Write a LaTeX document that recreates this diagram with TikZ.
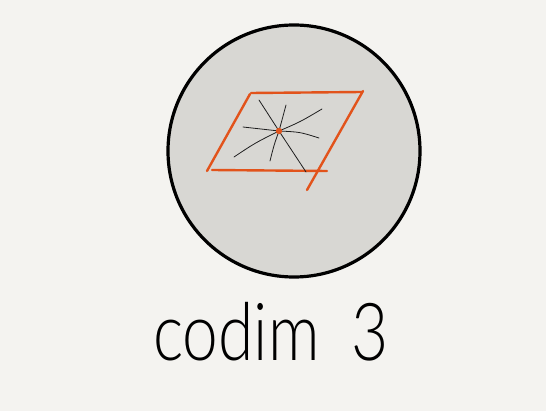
\documentclass[tikz,border=0pt]{standalone}
\usepackage{fontspec}
\setmainfont{Lato}[UprightFont=* Light]
\definecolor{paper}{HTML}{F4F3F0}
\definecolor{ball}{HTML}{D8D7D3}
\definecolor{sheet}{HTML}{E2531B}
\definecolor{ink}{HTML}{1E1E1E}
\begin{document}
\begin{tikzpicture}[x=1pt, y=-1pt,
    edge/.style={sheet, line width=2.4pt, line cap=round},
    fibre/.style={ink, line width=0.8pt, line cap=round}]
  \fill[paper] (0,0) rectangle (546,411);

  \draw[line width=3.2pt, fill=ball] (294,151) circle (126);

  \draw[edge] (251,93) -- (362,92);
  \draw[edge] (250,94) -- (207,171);
  \draw[edge] (212,170) -- (327,171);
  \draw[edge] (363,91) -- (307,190);

  \coordinate (pt) at (279,131);
  \draw[fibre] (259,100) -- (pt) -- (306,172);
  \draw[fibre] (286,105) .. controls (282,120) .. (pt) .. controls (274,145) .. (270,161);
  \draw[fibre] (243,127) -- (pt) .. controls (300,132) .. (319,138);
  \draw[fibre] (322,109) .. controls (300,122) .. (pt) .. controls (255,143) .. (234,157);
  \fill[sheet] (pt) circle (3.2);

  \node[anchor=base west, inner sep=0, text=black, font=\fontsize{80}{80}\selectfont]
    (label) at (153,361) {\scalebox{0.8}[1]{codim\hspace{0.5em}3}};
\end{tikzpicture}
\end{document}
